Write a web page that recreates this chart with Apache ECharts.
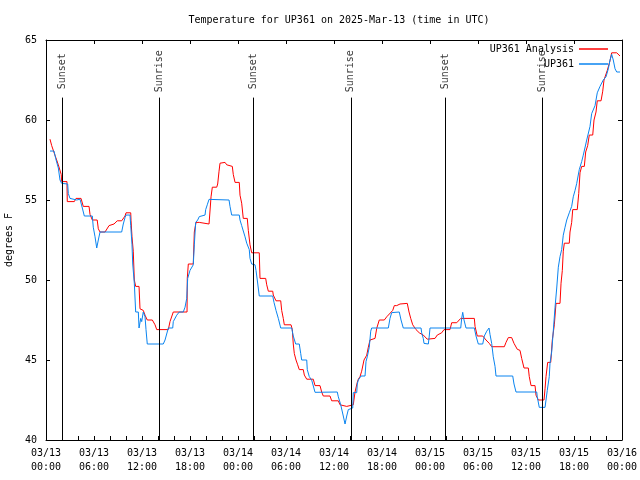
<!DOCTYPE html>
<html><head><meta charset="utf-8">
<script src="https://cdn.jsdelivr.net/npm/echarts@6/dist/echarts.min.js"></script>
<style>html,body{margin:0;padding:0;background:#fff}#c{width:640px;height:480px}</style>
</head><body><div id="c"></div>
<script>
// Hours since 2025-03-13 00:00 UTC
const xTickLabels = ['03/13\n00:00','03/13\n06:00','03/13\n12:00','03/13\n18:00','03/14\n00:00','03/14\n06:00','03/14\n12:00','03/14\n18:00','03/15\n00:00','03/15\n06:00','03/15\n12:00','03/15\n18:00','03/16\n00:00'];

const analysisHours = [0.5,0.71,1.12,1.54,1.75,1.9,1.96,2.62,2.66,3.54,3.75,4.38,4.66,5.38,5.5,5.79,6.4,6.54,6.75,7.38,7.88,8.5,8.91,9.46,9.88,10.0,10.59,10.63,10.75,10.91,11.04,11.21,11.63,11.75,12.16,12.38,12.66,13.29,13.63,13.84,15.29,15.5,15.91,17.63,17.66,17.79,18.41,18.54,18.71,18.75,19.16,19.25,20.38,20.63,20.79,21.34,21.46,21.63,21.75,22.38,22.59,22.75,23.29,23.41,23.63,24.16,24.25,24.46,24.66,25.16,25.29,25.5,25.71,26.66,26.75,27.46,27.59,27.79,28.34,28.41,28.75,29.34,29.46,29.66,29.79,30.63,30.79,30.91,31.04,31.25,31.46,31.66,32.16,32.29,32.59,33.41,33.63,34.25,34.46,34.66,35.5,35.71,36.54,36.75,36.96,37.59,37.63,38.41,38.5,38.63,38.91,39.04,39.25,39.46,39.75,40.09,40.29,40.5,41.13,41.34,41.66,42.29,42.59,43.34,43.54,43.84,44.25,45.16,45.38,45.59,45.84,46.25,46.66,47.16,47.66,48.63,48.91,49.46,49.75,50.5,50.71,51.34,51.84,53.54,53.63,53.91,54.59,55.0,55.41,55.71,57.29,57.5,57.79,58.21,58.5,58.91,59.25,59.46,59.75,60.29,60.41,60.63,61.13,61.25,61.54,62.25,62.38,62.5,62.71,63.09,63.29,63.54,63.75,64.25,64.38,64.54,64.66,64.79,65.41,65.5,65.71,65.84,66.41,66.59,66.75,66.96,67.29,67.46,67.71,67.91,68.34,68.5,68.75,68.91,69.38,69.59,69.75,70.0,70.16,70.5,70.71,71.34,71.54,71.75];
const analysisTemps = [58.8,58.4,57.8,57.2,57.1,56.6,56.15,56.15,54.9,54.9,55.1,55.1,54.6,54.6,54.1,53.75,53.75,53.2,53.0,53.0,53.4,53.5,53.7,53.7,54.0,54.2,54.2,53.7,52.7,51.8,50.0,49.6,49.6,48.2,48.1,47.8,47.5,47.5,47.2,46.9,46.9,47.4,48.0,48.0,50.1,51.0,51.0,53.0,53.0,53.6,53.6,53.5,53.5,55.2,55.8,55.8,56.0,56.8,57.3,57.35,57.2,57.1,57.1,56.6,56.1,56.1,55.3,54.8,53.85,53.85,53.1,52.2,51.7,51.7,50.1,50.1,49.7,49.3,49.3,49.06,48.7,48.7,48.1,47.6,47.2,47.2,46.9,46.0,45.4,45.0,44.7,44.4,44.4,44.06,43.8,43.8,43.4,43.4,43.0,42.75,42.75,42.45,42.45,42.2,42.1,42.1,42.2,42.2,42.3,43.0,43.6,43.8,43.96,44.3,45.0,45.3,45.8,46.25,46.35,46.98,47.5,47.5,47.7,48.1,48.4,48.4,48.5,48.54,48.0,47.6,47.2,46.9,46.7,46.56,46.3,46.35,46.56,46.7,46.9,46.9,47.33,47.33,47.6,47.6,47.1,46.5,46.5,46.25,46.04,45.83,45.83,46.1,46.4,46.4,46.04,45.67,45.6,45.1,44.5,44.5,43.96,43.4,43.4,42.8,42.5,42.5,43.2,43.96,44.85,44.85,46.25,47.2,48.54,48.54,49.8,50.6,51.8,52.3,52.3,53.0,53.6,54.4,54.4,55.4,56.7,57.1,57.1,58.0,58.4,59.06,59.06,60.0,60.5,61.2,61.2,61.8,62.5,62.54,63.1,63.7,64.2,64.2,64.1,64.0];

const obsHours = [0.5,1.0,1.21,1.54,1.75,1.96,2.71,2.79,3.0,3.09,3.84,4.25,4.54,4.79,5.79,5.91,6.13,6.34,6.54,6.75,9.46,9.66,9.88,10.0,10.5,10.59,10.75,10.84,11.04,11.21,11.54,11.63,11.84,11.96,12.16,12.38,12.5,12.66,14.66,14.88,15.29,15.84,15.91,16.34,16.66,17.16,17.38,17.59,17.71,18.0,18.41,18.54,18.71,18.96,19.16,19.34,19.88,19.96,20.16,20.38,22.88,23.0,23.21,24.16,24.25,24.46,24.88,25.09,25.41,25.5,25.71,26.13,26.25,26.41,26.66,28.34,28.5,28.75,29.04,29.34,30.71,30.91,31.21,31.66,31.84,31.96,32.59,32.66,32.91,33.21,33.63,36.41,36.54,36.84,37.16,37.38,37.59,37.79,38.0,38.34,38.41,38.84,38.91,39.04,39.38,39.88,40.0,40.16,40.41,40.59,40.71,42.79,43.0,43.21,44.16,44.38,44.66,46.88,46.96,47.16,47.25,47.79,47.91,48.0,51.84,51.96,52.09,52.25,52.5,53.54,53.75,54.04,54.59,54.79,55.09,55.38,55.5,55.71,55.91,56.13,56.25,58.34,58.5,58.75,61.34,61.41,61.66,62.38,62.5,62.66,62.91,63.0,63.21,63.41,63.63,63.84,64.04,64.25,64.46,64.66,64.88,65.09,65.41,65.71,65.91,66.13,66.34,66.66,66.96,67.16,67.59,68.0,68.21,68.63,68.91,69.25,69.66,70.0,70.29,70.5,70.71,70.91,71.13,71.34,71.75];
const obsTemps = [58.06,58.06,57.6,57.0,56.25,56.04,56.0,55.4,55.1,55.0,55.0,55.05,54.5,54.0,54.0,53.3,52.7,52.0,52.5,53.0,53.0,53.5,53.9,54.06,54.06,53.4,52.2,51.0,49.8,48.0,48.0,47.0,47.6,47.4,48.0,47.7,46.9,46.0,46.0,46.25,47.0,47.0,47.4,47.8,48.0,48.0,48.3,48.85,50.1,50.6,50.95,52.2,53.6,53.75,53.96,54.06,54.06,54.4,54.7,55.04,55.0,54.6,54.06,54.06,53.75,53.4,52.7,52.3,51.9,51.35,51.0,50.95,50.6,50.0,49.0,49.0,48.6,48.1,47.6,47.0,47.0,46.5,46.0,46.0,45.4,45.0,45.0,44.4,43.96,43.75,42.98,43.0,42.7,42.2,41.5,41.0,41.5,41.9,42.0,42.0,42.96,42.96,43.5,43.75,44.0,44.0,44.9,45.2,45.8,46.8,47.0,47.0,47.6,47.96,48.0,47.5,47.0,47.0,46.7,46.35,46.04,46.0,46.5,47.0,47.0,47.6,47.98,47.5,47.0,47.0,46.5,46.0,46.0,46.5,46.8,47.0,46.6,46.04,45.2,44.6,44.0,44.0,43.5,43.0,43.0,42.7,42.04,42.04,42.5,43.1,43.96,44.8,45.5,46.8,48.3,49.5,50.8,51.46,51.9,52.8,53.3,53.75,54.2,54.6,55.2,55.6,56.04,56.9,57.4,57.8,58.75,59.6,60.4,60.9,61.7,62.1,62.5,62.7,63.2,63.75,64.1,63.75,63.2,63.0,63.0];

const sunEventHours = [2.0, 14.15, 25.95, 38.1, 49.95, 62.05];
const sunEventNames = ['Sunset','Sunrise','Sunset','Sunrise','Sunset','Sunrise'];

const FONT = 'DejaVu Sans Mono';
const Y_MIN = 40, Y_MAX = 65;
const LINE_TOP = 61.4, LABEL_Y = 63.05;
const RED = '#ff0000', BLUE = '#0a84f0';

const zip = (a, b) => a.map((v, i) => [v, b[i]]);

const chart = echarts.init(document.getElementById('c'), null, {renderer: 'canvas'});
const axisCommon = {
  axisLine: {show: true, onZero: false, lineStyle: {color: '#000', width: 1}},
  splitLine: {show: false}
};
chart.setOption({
  animation: false,
  backgroundColor: '#fff',
  title: {
    text: 'Temperature for UP361 on 2025-Mar-13 (time in UTC)',
    left: 334, top: 10, textAlign: 'center',
    textStyle: {fontFamily: FONT, fontSize: 10, fontWeight: 'normal', color: '#000'}
  },
  legend: {
    data: [{name: 'UP361 Analysis', icon: 'rect', itemStyle: {color: RED}},
           {name: 'UP361', icon: 'rect', itemStyle: {color: BLUE}}],
    orient: 'vertical', align: 'right',
    right: 27, top: 38,
    itemWidth: 29, itemHeight: 1.5, itemGap: 3,
    textStyle: {fontFamily: FONT, fontSize: 10, color: '#000', lineHeight: 12}
  },
  grid: {left: 46, right: 18, top: 40, bottom: 40, outerBoundsMode: 'none', containLabel: false},
  xAxis: [
    Object.assign({}, axisCommon, {
      type: 'value', min: 0, max: 72, interval: 6, position: 'bottom',
      axisTick: {show: true, inside: true, length: 4, lineStyle: {color: '#000'}},
      minorTick: {show: true, splitNumber: 3, length: 4, lineStyle: {color: '#000'}},
      axisLabel: {
        formatter: v => xTickLabels[Math.round(v / 6)] || '',
        fontFamily: FONT, fontSize: 10, color: '#000', lineHeight: 14, margin: 6
      }
    }),
    Object.assign({}, axisCommon, {
      type: 'value', min: 0, max: 72, interval: 6, position: 'top',
      axisTick: {show: true, inside: true, length: 4, lineStyle: {color: '#000'}},
      axisLabel: {show: false}
    })
  ],
  yAxis: [
    Object.assign({}, axisCommon, {
      type: 'value', min: Y_MIN, max: Y_MAX, interval: 5, position: 'left',
      axisTick: {show: true, inside: true, length: 4, lineStyle: {color: '#000'}},
      axisLabel: {fontFamily: FONT, fontSize: 10, color: '#000', margin: 9},
      name: 'degrees F', nameLocation: 'middle', nameGap: 31, nameRotate: 90,
      nameTextStyle: {fontFamily: FONT, fontSize: 10, color: '#000'}
    }),
    Object.assign({}, axisCommon, {
      type: 'value', min: Y_MIN, max: Y_MAX, interval: 5, position: 'right',
      axisTick: {show: true, inside: true, length: 4, lineStyle: {color: '#000'}},
      axisLabel: {show: false}
    })
  ],
  series: [
    {
      name: 'sun', type: 'scatter', symbolSize: 0, silent: true,
      data: sunEventHours.map((h, i) => ({value: [h, LABEL_Y], name: sunEventNames[i]})),
      label: {show: true, position: 'inside', rotate: 90, formatter: p => p.name,
        fontFamily: FONT, fontSize: 10, color: '#000'},
      markLine: {
        silent: true, symbol: ['none', 'none'], animation: false,
        lineStyle: {color: '#000', width: 1, type: 'solid'},
        label: {show: false},
        data: sunEventHours.map(h => [{coord: [h, Y_MIN]}, {coord: [h, LINE_TOP]}])
      }
    },
    {
      name: 'UP361 Analysis', type: 'line', showSymbol: false, symbol: 'none',
      data: zip(analysisHours, analysisTemps),
      lineStyle: {color: RED, width: 1}, itemStyle: {color: RED}
    },
    {
      name: 'UP361', type: 'line', showSymbol: false, symbol: 'none',
      data: zip(obsHours, obsTemps),
      lineStyle: {color: BLUE, width: 1}, itemStyle: {color: BLUE}
    }
  ]
});
</script>
</body></html>
